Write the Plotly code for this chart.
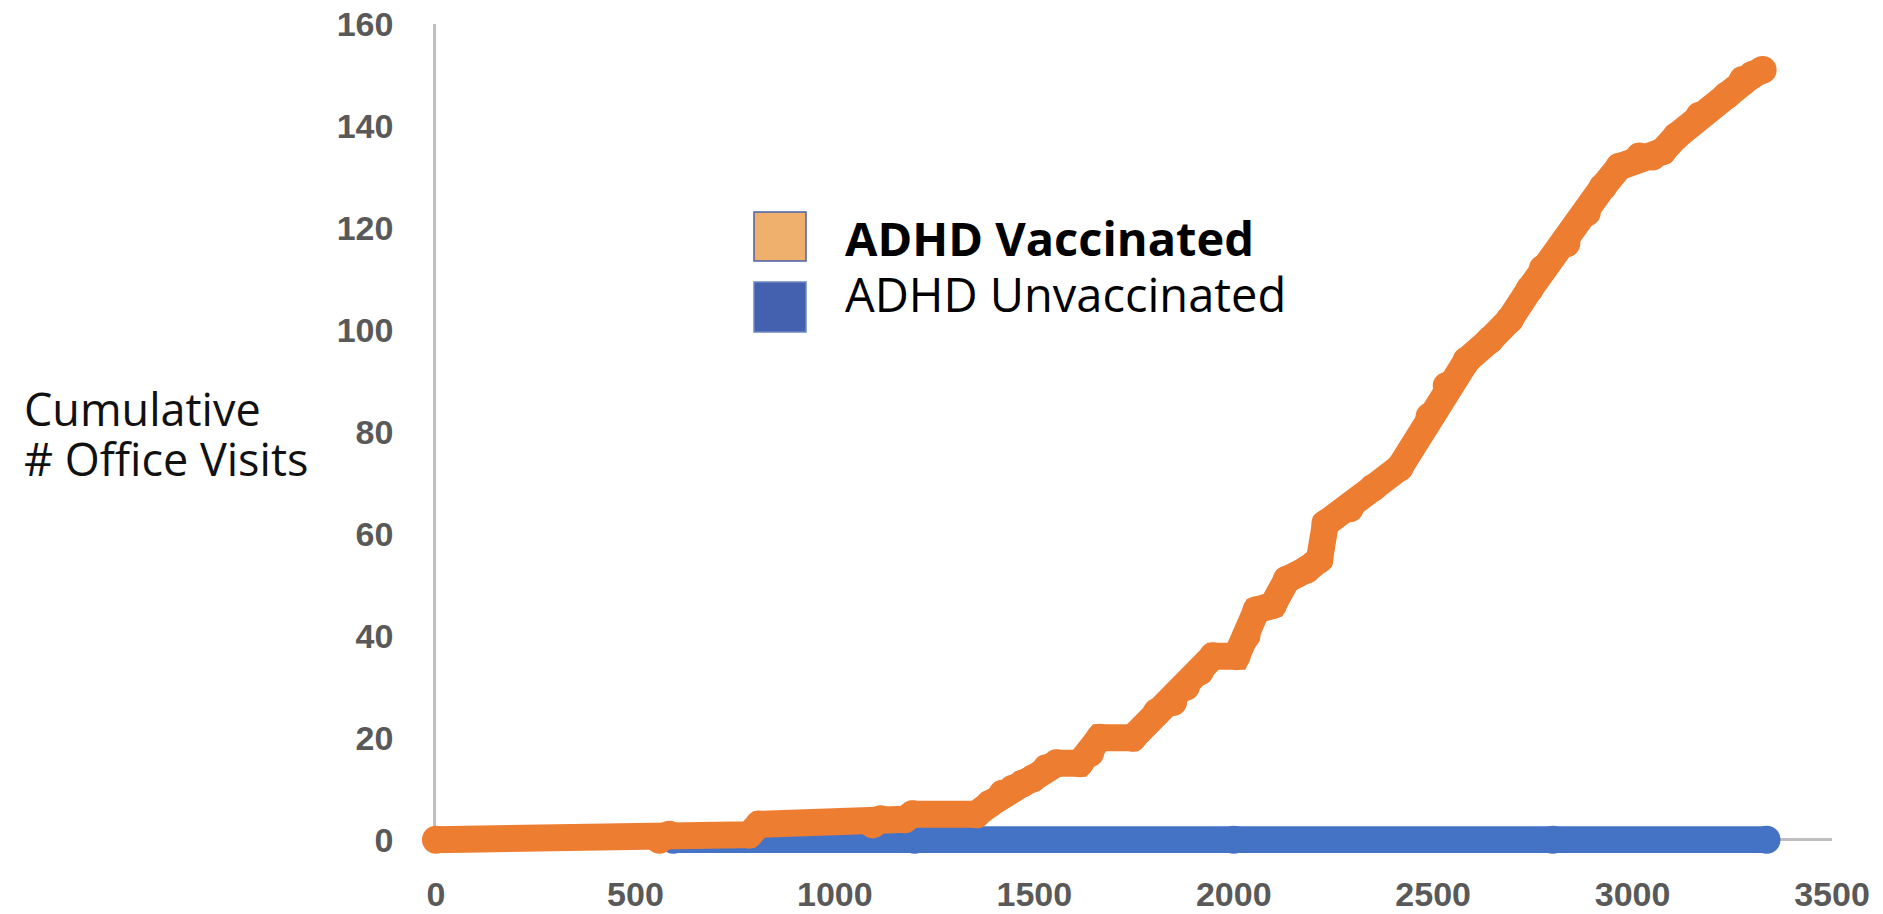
import plotly.graph_objects as go

# Orange: ADHD vaccinated, cumulative office visits
vacc_x = [0, 560, 585, 785, 810, 1095, 1115, 1175, 1195, 1355, 1388, 1420, 1446, 1470,
          1496, 1530, 1556, 1614, 1640, 1664, 1747, 1807, 1848, 1880, 1915, 1948, 2007,
          2032, 2057, 2098, 2133, 2183, 2215, 2230, 2291, 2349, 2416, 2491, 2534, 2584,
          2642, 2692, 2742, 2775, 2834, 2885, 2925, 2967, 3017, 3050, 3075, 3110, 3168,
          3236, 3276, 3300, 3326]
vacc_y = [0, 0, 1, 1, 3, 3, 4, 4, 5, 5, 7, 9, 10, 11,
          12, 14, 15, 15, 17, 20, 20, 25, 27, 30, 33, 36, 36,
          40, 45, 46, 51, 53, 55, 62, 65, 69, 73, 83, 89, 94,
          98, 102, 108, 112, 117, 123, 128, 132, 134, 134, 135, 138, 142,
          146, 149, 150, 151]

# Blue: ADHD unvaccinated, stays at zero
unvacc_x = [595, 1200, 2000, 2800, 3336]
unvacc_y = [0, 0, 0, 0, 0]

x_ticks = [0, 500, 1000, 1500, 2000, 2500, 3000, 3500]
y_ticks = [0, 20, 40, 60, 80, 100, 120, 140, 160]

ORANGE = "#ED7D31"
BLUE = "#4472C4"
GREY = "#BFBFBF"

W, H = 1883, 914
L, R, T, B = 436, 51, 24, 61
pw, ph = W - L - R, H - T - B


def px(x):
    return (x - L) / pw


def py(y):
    return (H - B - y) / ph


fig = go.Figure()

fig.add_trace(go.Scatter(x=unvacc_x, y=unvacc_y, mode="lines+markers",
                         line=dict(color=BLUE, width=27),
                         marker=dict(color=BLUE, size=28),
                         cliponaxis=False, showlegend=False))
fig.add_trace(go.Scatter(x=vacc_x, y=vacc_y, mode="lines+markers",
                         line=dict(color=ORANGE, width=27),
                         marker=dict(color=ORANGE, size=28),
                         cliponaxis=False, showlegend=False))

tick_font = dict(family="Liberation Sans, Arial", size=34, color="#595959", weight="bold")

fig.update_xaxes(range=[0, 3500], tickvals=x_ticks, showgrid=False, zeroline=False,
                 showline=False, ticks="", tickfont=tick_font, ticklabelstandoff=18,
                 layer="below traces", fixedrange=True, automargin=False)
fig.update_yaxes(range=[-2.6, 160], tickvals=y_ticks, showgrid=False,
                 zeroline=True, zerolinecolor=GREY, zerolinewidth=2.5,
                 showline=True, linecolor=GREY, linewidth=2.5, ticks="",
                 tickfont=tick_font, ticklabelstandoff=33,
                 layer="below traces", fixedrange=True, automargin=False)

# legend drawn by hand: squares + labels
fig.add_shape(type="rect", xref="paper", yref="paper",
              x0=px(754), x1=px(806), y0=py(261), y1=py(212),
              fillcolor="#EFB06E", line=dict(color="#4A62AA", width=1.5))
fig.add_shape(type="rect", xref="paper", yref="paper",
              x0=px(754), x1=px(806), y0=py(332), y1=py(282),
              fillcolor="#4461B0", line=dict(color="#6F86C4", width=1.5))

label_font = "Open Sans, Lato, sans-serif"
fig.add_annotation(text="<b>ADHD Vaccinated</b>", xref="paper", yref="paper",
                   x=px(843), y=py(238), xanchor="left", yanchor="middle",
                   showarrow=False, font=dict(family=label_font, size=47, color="#000000"))
fig.add_annotation(text="ADHD Unvaccinated", xref="paper", yref="paper",
                   x=px(843), y=py(294), xanchor="left", yanchor="middle",
                   showarrow=False, font=dict(family=label_font, size=47, color="#000000"))

# y-axis title, two left-aligned lines
fig.add_annotation(text="Cumulative", xref="paper", yref="paper",
                   x=px(22), y=py(408), xanchor="left", yanchor="middle",
                   showarrow=False, font=dict(family=label_font, size=45, color="#111111"))
fig.add_annotation(text="# Office Visits", xref="paper", yref="paper",
                   x=px(22), y=py(458), xanchor="left", yanchor="middle",
                   showarrow=False, font=dict(family=label_font, size=45, color="#111111"))

fig.update_layout(width=W, height=H, autosize=False,
                  margin=dict(l=L, r=R, t=T, b=B, pad=0, autoexpand=False),
                  plot_bgcolor="white", paper_bgcolor="white",
                  showlegend=False)

fig.write_html("out.html", config={"displayModeBar": False},
               post_script="document.body.style.margin='0';")
